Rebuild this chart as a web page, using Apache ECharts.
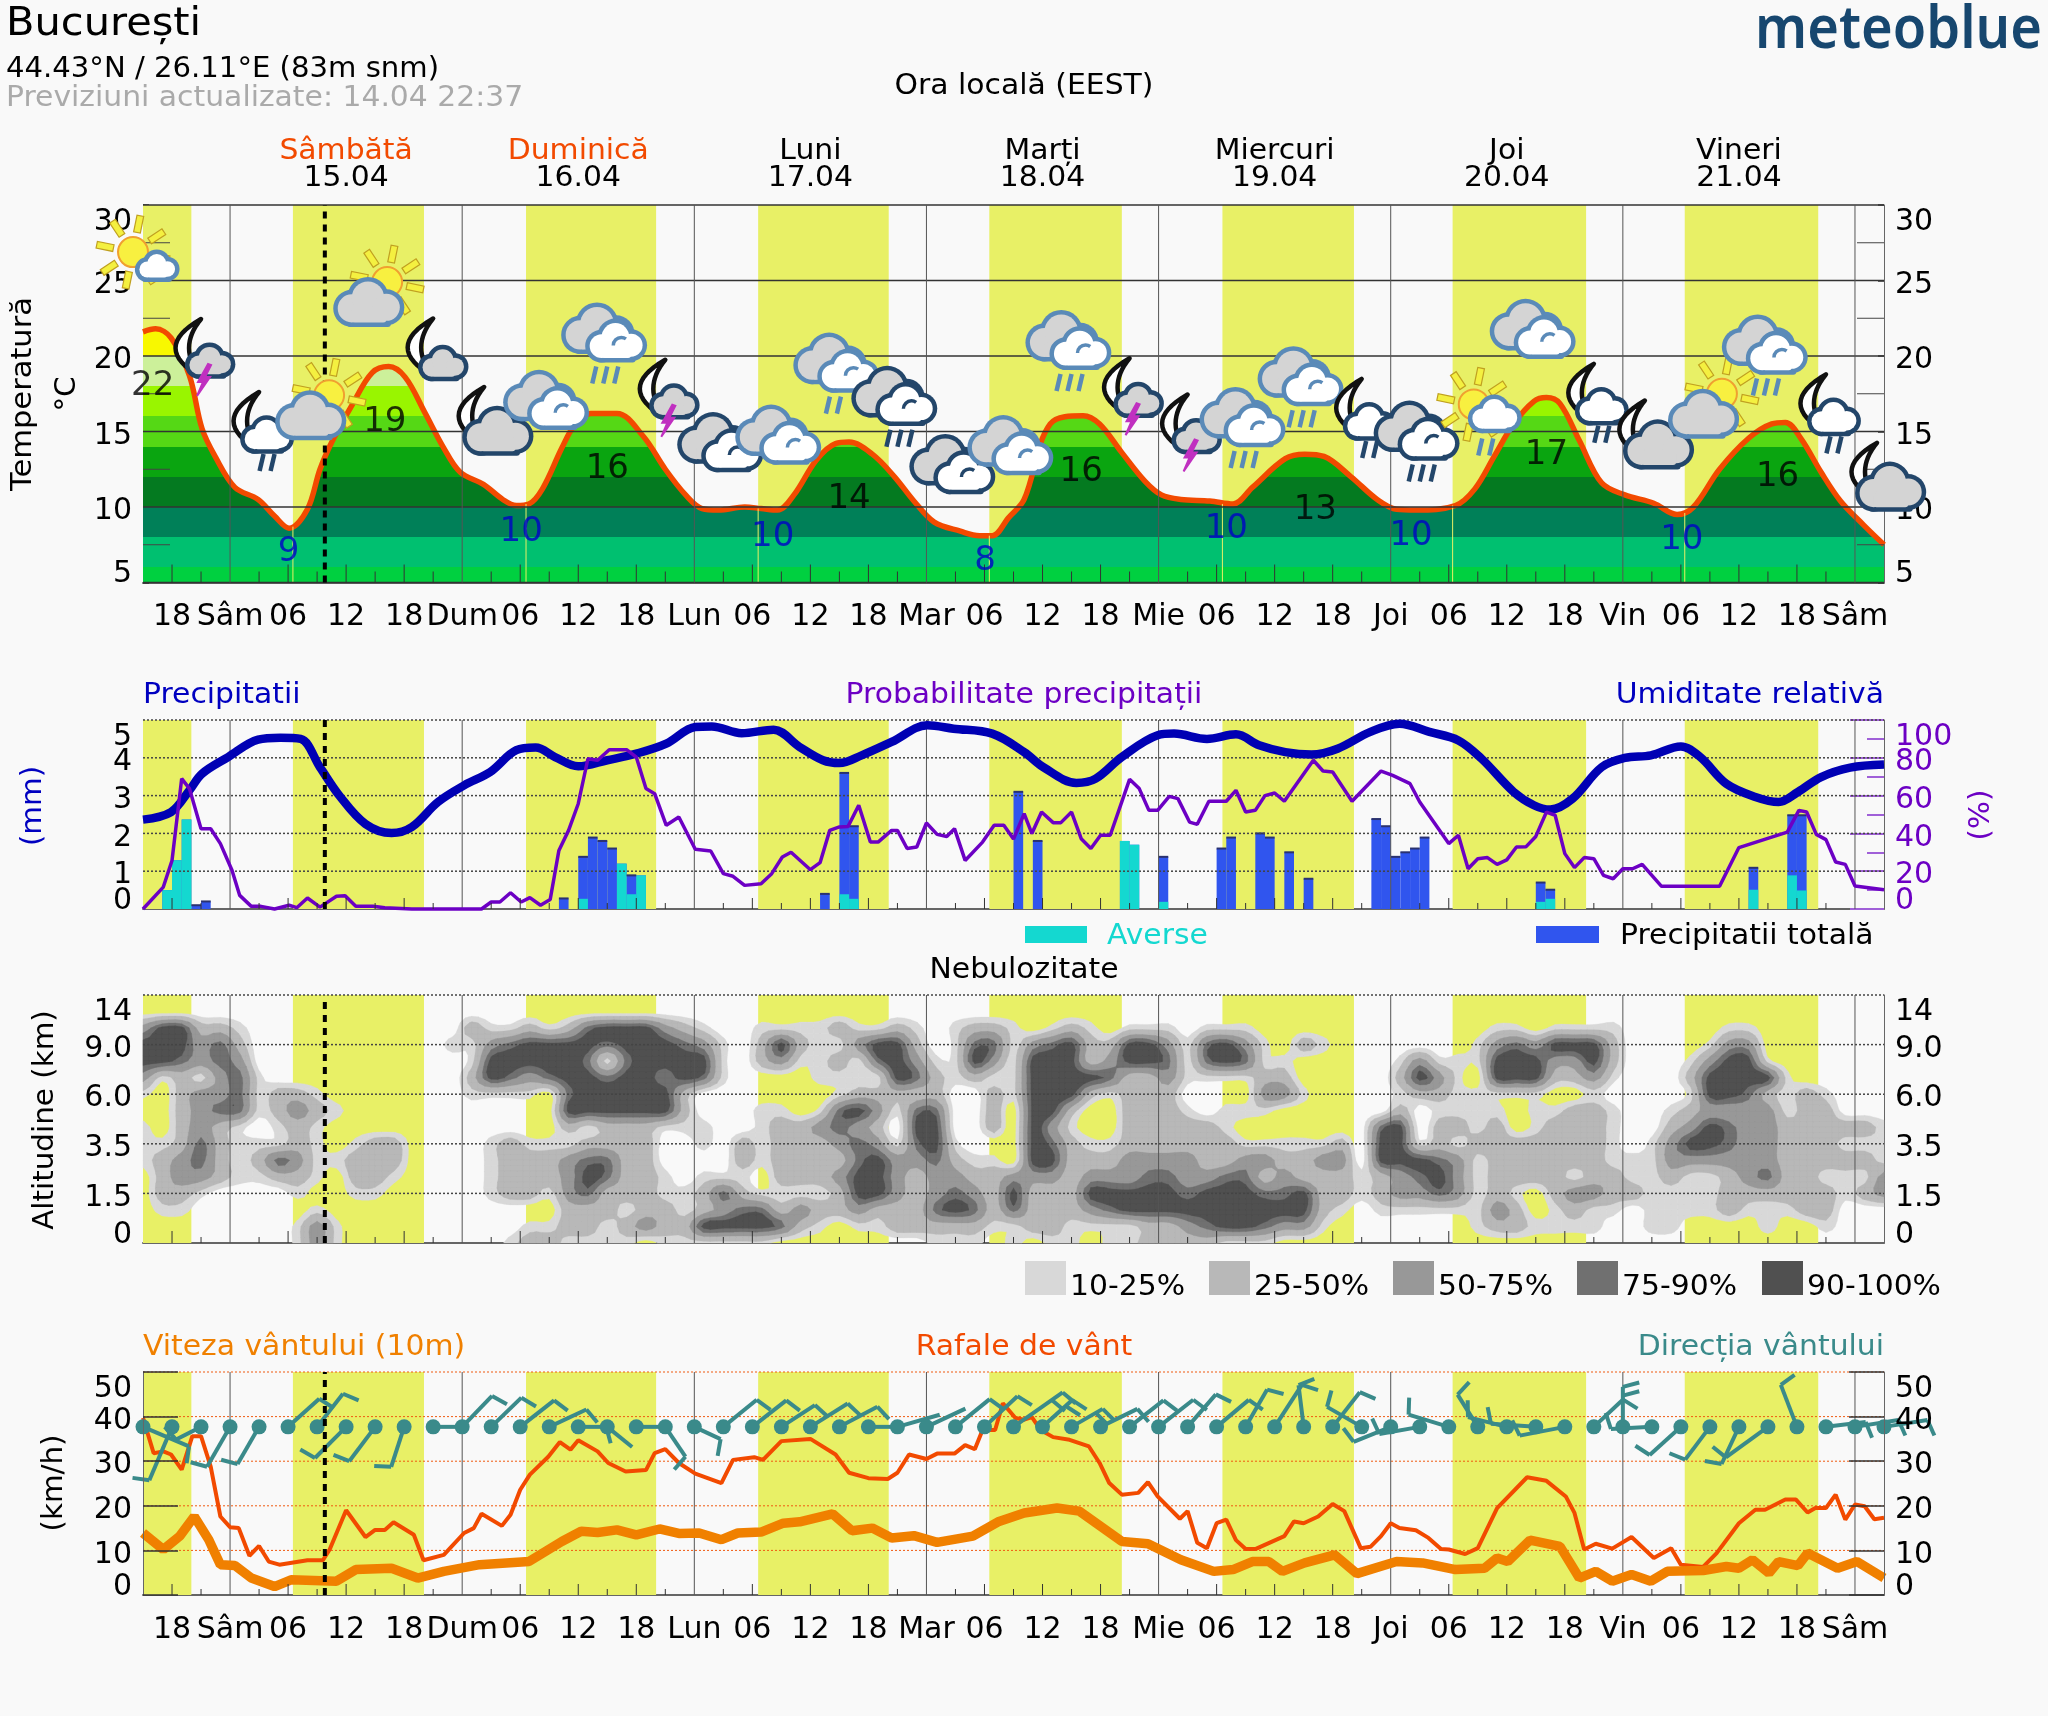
<!DOCTYPE html>
<html><head><meta charset="utf-8">
<style>html,body{margin:0;padding:0;background:#f9f9f9}#c{width:2048px;height:1716px}</style>
<script src="https://cdn.jsdelivr.net/npm/echarts@6/dist/echarts.min.js"></script>
</head><body><div id="c"></div>
<script>
// ---------- DATA (hours counted from Fri 14.04 15:00 local) ----------
const xLabelHours=[3,9,15,21,27,33,39,45,51,57,63,69,75,81,87,93,99,105,111,117,123,129,135,141,147,153,159,165,171,177];
const xLabelTexts=['18','Sâm','06','12','18','Dum','06','12','18','Lun','06','12','18','Mar','06','12','18','Mie','06','12','18','Joi','06','12','18','Vin','06','12','18','Sâm'];
const midnightHours=[9,33,57,81,105,129,153,177];
const dayBandStart=[0,15.5,39.6,63.6,87.5,111.6,135.4,159.4];
const dayBandEnd=[5,29.05,53.05,77.1,101.2,125.2,149.2,173.2];
const dayNames=['Sâmbătă','Duminică','Luni','Marți','Miercuri','Joi','Vineri'];
const dayDates=['15.04','16.04','17.04','18.04','19.04','20.04','21.04'];
const dayCentreHours=[21,45,69,93,117,141,165];
const nowHour=18.8;

const tempHours=[0,1.3,2.9,4.8,6.1,7.5,9.5,11.9,13.6,15.1,17,18.3,19.6,21.7,23.7,25.4,27.1,29.1,31.1,32.8,35.2,37.2,38.6,39.9,41.3,43.3,44.6,46.3,49,51.7,54,56.1,57.8,59.5,62.2,63.9,65.6,67.3,69.6,71.6,73,75.4,77.7,79.7,81.8,84.5,86.5,87.8,89.5,91.1,93.8,97.2,98.9,101.2,103.6,105.3,107.3,110.3,112.7,114.7,118.1,120.1,122.1,124.9,127.6,129.6,131.6,135.7,137.7,139.7,141.7,143.8,145.1,146.5,148.5,150.8,153.2,156.2,158.6,160.3,163,166,168.4,169.8,171.4,173.5,175.5,177.9,180];
const tempValues=[21.6,21.8,21.2,18.7,15.2,13.3,11.3,10.5,9.4,8.6,9.85,12.5,14.4,16.85,18.9,19.3,18.6,16.3,13.9,12.3,11.5,10.5,10.1,10.2,11.2,13.9,15.4,16.2,16.2,14.7,12.5,10.8,9.9,9.8,10,9.9,9.8,10.8,13.1,14.2,14.3,13.5,12,10.4,9,8.4,8.1,8.1,9.3,10.5,15.5,16.05,15.5,13.6,11.7,10.8,10.5,10.4,10.2,11.3,13.2,13.5,13.35,12,10.5,9.85,9.8,10.1,11.2,13.35,15.5,17,17.25,16.85,14.4,11.6,10.8,10.25,9.5,10,12.5,14.55,15.5,15.6,14.55,12.3,10.4,8.8,7.5];
const tempTicksY=[5,10,15,20,25,30];
const tempMinorTicksY=[7.5,12.5,17.5,22.5,27.5];
const tempBandTops=[6,8,10,12,14,16,18,20,22,30];
const tempBandColors=['#00d040','#00c070','#008058','#047a20','#0aa510','#55d815','#99f500','#ccf09a','#f8f800','#ffa000'];
const highHours=[1,25,48,73,97,121.2,145.1,169];
const highLevels=[18,15.6,12.5,10.5,12.3,9.8,13.4,12];
const highTexts=['22','19','16','14','16','13','17','16'];
const lowHours=[15.06,39.1,65.1,87.05,112,131.1,159.1];
const lowLevels=[7,8.35,8,6.4,8.5,8.1,7.8];
const lowTexts=['9','10','10','8','10','10','10'];
const sunriseHours=[15.5,39.6,63.6,87.5,111.6,135.4,159.4];
const sunriseTemps=[8.7,10.2,9.9,8.1,10.2,10.1,9.6];

const iconHours=[0,6,12,18,24,30,36,42,48,54,60,66,72,78,84,90,96,102,108,114,120,126,132,138,144,150,156,162,168,174,180];
const iconLevels=[26.75,20,15.03,16.6,24.1,20.3,15.7,16.9,20.7,17.3,14.1,14.6,18.7,16.5,12.65,13.9,20.2,17.4,15,15.1,17.8,15.9,14.2,16,21.6,16.9,14.8,16.7,19.9,16.2,12];
const iconKinds=['sunWhite','moonBolt','moonRain','sunGrey','sunGrey','moonGreyS','moonGreyL','triple','tripleRain3','moonBolt','tripleDark','triple','tripleRain2','tripleDarkRain3','tripleDark','triple','tripleRain3','moonBolt','moonBolt','tripleRain3','tripleRain3','moonRain','tripleDarkRain3','sunWhiteRain','triple','moonRain','moonGreyL','sunGrey','tripleRain3','moonRain','moonGreyL'];

const humidityHours=[0,2.9,4.8,6.1,8.8,11.9,14.2,16.3,18.3,20.3,23,25.7,27.8,30.5,33.2,35.9,38.6,40.6,42.6,45,48,51,54.1,57.1,58.8,61.9,65.2,67.9,70.3,72,74.3,77.4,81.1,83.8,87.8,91.1,93.1,96.5,98.5,101.2,104.9,106.6,110,113,115.4,118.1,120.8,123.5,126.9,129.9,133,136,138.4,141.7,143.8,145.5,147.8,150.8,153.2,155.9,159,161,163.7,166.7,169.1,171.1,173.5,176.5,180];
const humidityValues=[47.3,51.3,62.8,71.6,80.4,89.6,90.6,90,75,60,45,40.2,43.4,56.6,65.4,72.5,84,85.4,80.4,75.5,78.7,82.2,87.5,96.3,96.6,93,94.9,85.7,78.7,77.2,81.3,88.4,97.2,95.4,92.8,83,75,66.7,69,80.4,91.9,92.8,90,92.4,86.6,83,81.7,84.8,93.7,98,93.7,89.2,79.5,62,54.9,52.6,58.4,75,79.9,81.3,86,80.4,66.3,59.3,56.6,61.9,69.8,74.8,76.4];
const probHours=[0,2.1,3,4,4.8,6,7,8,9.2,10,11.2,12.2,13.6,15.1,15.9,17,18.3,20,20.9,22,23.8,25,27.8,35,36,36.9,38,39.1,40,41.1,42.1,43,44,45,46,47,48.2,50,51,52,52.9,54.1,55.4,57.1,58.7,60,61,62.2,63.9,65,66.1,67,69,70,71,72,72.9,74,75.2,76,77.4,78,79,80,81,82.1,83.1,83.9,85,86.8,88,89,90,91.1,91.9,92.9,94.1,94.9,96,97,98,99,100,102,103,104,104.9,106.1,107,108.2,109,110.2,112,113,114,115,116,117,118,121,122,123,125,128,129.2,131,132,135,136,137,138,139,140,141,142,143,144,145.1,146,147,148,149,150,151,152,153,154,155,157,163,165,170,171.2,172,173,174,175,176,177,180];
const probValues=[0,11.6,25.7,69,63.7,42.5,42.5,34.6,20.5,7.2,1.4,1.4,0,2,0.7,5.8,1,6.7,7,1.4,1.4,0.7,0,0,3.7,3.7,8.6,3.7,6,2,5,31,41.6,55.7,79.5,78.7,84.3,84.3,80.4,63.7,61,44.3,48.7,31.6,30.7,18.7,17.3,12.5,13.4,18.7,27.5,30,20.8,24.5,41.6,43.4,43.7,54.9,35.4,35.4,41.6,41.6,32,32.8,45.5,39.5,38.4,42.5,25.7,35.4,44.3,44.3,37,50.4,39.9,51.3,45.7,45.7,51.3,37.2,32,39,39,68.6,63.7,52.2,52.2,59.6,58.4,46,44.8,57,57,62.8,51.3,52.2,60,61.4,57,78.7,73,72.5,57,73,70.7,66.3,56.6,34.6,39,21.3,26.6,27.2,23.6,26,32.8,33,38.4,51.3,49.6,29.3,21.9,27.2,26.6,17.8,16,21.3,21.3,23.6,12,12,32.5,40.7,52.2,51.3,39.5,36.7,24.9,23.6,12.2,10.2];
const rainHours=[2,3,4,5,6,43,45,46,47,48,49,50,51,70,72,73,90,92,101,102,105,111,112,115,116,118,120,127,128,129,130,131,132,144,145,166,170,171];
const rainTotal=[0.5,1.29,2.37,0.1,0.2,0.28,1.38,1.89,1.8,1.6,1.2,0.89,0.89,0.4,3.6,2.19,3.1,1.8,1.8,1.7,1.38,1.6,1.89,2,1.89,1.5,0.8,2.38,2.19,1.38,1.5,1.6,1.89,0.7,0.51,1.09,2.48,2.48];
const rainShowers=[0.5,1.29,2.37,0,0,0,0.27,0,0,0,1.2,0.39,0.89,0,0.39,0.27,0,0,1.8,1.7,0.19,0,0,0,0,0,0,0,0,0,0,0,0,0.19,0.27,0.51,0.89,0.49];

const cloudAltitudes=['0','1.5','3.5','6.0','9.0','14'];
const cloudColours=['#d8d8d8','#b8b8b8','#989898','#707070','#505050'];
const cloudLegend=['10-25%','25-50%','50-75%','75-90%','90-100%'];
const cloudThresholds=[10,25,50,75,90];
const cloudDigitPercent=[0,17,37,62,82,97];
// one row every third of an altitude step, top to bottom; one digit every 2 h; 0 = clear ... 5 = 90-100 %
const cloudRows=[
"00000000000000000000000 00000000000000000000000 00000000000000000000000 0000000000000000000000",
"00000000000000000000000 00000000000000000000000 00000000000000000000000 0000000000000000000000",
"35522100000000000211212 45553210011112112101221 01210111011100000000000 0110111100000110000000",
"55534200000000001134555 54555431025211355201441 34522553145310210000000 1343555200001330000000",
"55434300000000000155555 41455551023112145311531 55523554145411000001311 1555335200013551000000",
"31213410000000000254345 54554541000011115421211 55554223111122000002531 0555223100025555100000",
"10233412210000000111104 55555200000001222220021 55521222000033100001221 1111001000015542121000",
"00234412321000000000005 55555200011014531440020 55200222101110000002011 1101122100123333122000",
"10232101210000000000002 12221110012234320550020 53100222221000000045022 1201222100235433222221",
"11242111210122000012111 22220010212223431451000 54211222222111112055121 2222222101355433222111",
"12342124311222000012223 44220000212222453342110 55222333322332233055543 1222222111333333222221",
"02332112210221000012223 54221011102223553233223 33233344334423222123453 1222212211211234221113",
"02210000100110000012213 42221124211112553234325 22255555455544522123343 1210233221111222222123",
"01100000010000000000002 22122123442322322245424 22234555555555521011111 1320121101111211122000",
"00000000131000000000112 21232255554210112222211 22111122345543310000000 1221111001100001001000",
"00000000131000000001221 11101111110000000011101 01101122221110000000000 0000000000000000000000"
];

const gustHours=[0,1.1,2.1,2.9,4,5.1,6,7,8,9,9.9,11,12,13,14.1,17,18.6,19.3,21,23,24,25,25.9,28,29,31.1,33.2,34.2,35,37.1,38,39,40,41.9,43.1,44.2,45,47,48.1,49.9,52,52.9,54,55.4,57.1,59.8,61,63.2,64.1,66,69,71.6,73,75,77,78,79.2,81,82.1,83.9,85,86,86.8,88.1,88.9,90.2,91.1,91.9,92.8,94.1,95.8,97.8,98.9,99.9,101.2,102.9,103.9,104.9,107.2,108,109,110,111,112,113,114,115,118,119,120,121.5,123,124.2,125.9,126.9,128,129,129.9,131.6,132.9,134.2,135,136.7,138,140,143.1,145.1,147.1,148,149,150.2,151.9,153.9,156.2,158,159,161.3,162.7,165,166.7,167.7,169.8,170.9,172.1,172.9,174,175,176,177,178,179,180];
const gustValues=[39.7,31.8,32.2,31.5,28.1,35.6,35.6,28.8,17.6,15.2,15,8.8,11,7.5,6.8,7.8,7.8,10.2,19,13,14.6,14.6,16.3,13.5,7.8,9,13.9,15,18.2,15.5,18,23.6,27,31,34.3,32.6,34.7,32.2,29.6,27.7,28,31.8,32.7,29.6,27.2,25.1,30.3,30.9,30.3,34.5,35,31.5,27.4,26.2,26,27.4,31.5,30.5,31.7,31.7,33.6,32.7,37,37,43,39.7,39.3,39.9,37,35.4,34.8,33.3,29.6,25.1,22.5,22.9,25.3,22.1,17.1,18.8,11.7,10.5,16.1,16.9,12.3,10.3,10.3,13.2,16.5,16.1,17.6,20.4,18.8,10.5,10.8,13.2,16.1,15,14.5,12.8,10.3,10.2,9.2,10.5,19.5,26.4,25.6,22.1,18.4,10.2,11.5,10.4,13,8.3,10.5,6.8,6.3,9.4,16.1,19.1,19.1,21.4,21.4,18.5,19.5,19.5,22.5,16.9,20.3,19.9,17,17.3];
const windHours=[0,2.1,3.8,5.3,6.8,8,9.5,11.2,13.6,15.3,20,22,25.7,28.4,31.1,34.8,39.9,43.3,45.3,47,49,51,53.4,55.4,57.5,59.8,61.5,63.9,66.2,67.9,71.3,73.3,75.4,77.4,79.7,82.1,85.8,88.5,91.1,94.5,96.8,101.2,103.9,107.3,110.7,112.7,114.7,116.4,117.8,120.1,123.2,125.5,129.6,132.3,135.7,138.7,140,141.1,143.4,146.5,148.5,150.2,151.9,153.9,155.9,157.6,161.3,163.7,165,166.4,168.1,169.1,171.1,172.1,175.2,177.2,180];
const windValues=[13.9,10.2,13.2,17.6,12.4,6.8,6.6,3.8,1.9,3.4,3.1,5.7,6,3.8,5.3,6.8,7.5,12,14.3,14,14.6,13.5,14.8,13.8,13.9,12.4,13.9,14.1,16.1,16.4,18.2,14.4,15,12.8,13.3,11.8,13.2,16.5,18.4,19.5,18.8,12,11.5,7.9,5.3,5.7,7.5,7.5,5.3,7.2,9,4.8,7.5,7.2,5.7,6,8.3,7.5,12.3,10.9,3.8,5.3,3.1,4.6,3.1,5.3,5.5,6.4,6,7.9,4.9,7.5,6.6,9.4,6,7.5,3.8];
const windMarkerLevel=37.7;
// every 3 h from hour 0: barb direction (degrees clockwise from east), barb strength, feathers
const windBarbDir=[23,113,153,120,120,-42,-52,135,127,108,0,-46,-44,-38,-25,0,39,0,56,25,-39,-38,-33,-32,-28,0,-16,-25,-39,-43,-35,-42,-30,-26,-38,-38,-49,-40,-60,-57,-97,-52,-150,158,170,-163,-122,-166,-176,169,-43,-90,177,138,127,115,144,-111,-7,-9,-9];
const windBarbStrength=[50,58,28,46,43,42,42,44,43,42,29,43,42,43,41,28,32,25,36,29,43,43,40,44,43,29,44,43,44,45,60,40,36,41,43,44,43,42,43,50,42,44,40,40,41,42,38,40,45,46,40,40,41,42,41,41,52,45,40,44,44];
const windBarbFeathers=[1,1,1,1,1,1,1,1,1,1,0,1,1,1,1,1,0,0,1,1,1,1,1,1,1,0,0,0,1,1,2,2,2,1,1,1,1,1,1,1,1,1,1,1,1,1,1,1,1,1,1,2,1,1,1,1,1,1,1,1,1];

// ---------- LAYOUT / STYLE ----------
const FONT='"DejaVu Sans"';
const PX0=143,PX1=1884;
const panels=[{top:205,bottom:582.5,yi:0,min:5,max:30,longTick:18,shortTick:11},
              {top:720,bottom:909,yi:2,min:0,max:5,longTick:11,shortTick:6},
              {top:995,bottom:1243,yi:4,min:0,max:5,longTick:12,shortTick:6},
              {top:1372,bottom:1595,yi:6,min:0,max:50,longTick:11,shortTick:6}];
const YELLOW='#e8f066',ORANGE='#f24a00',AMBER='#f08000',TEAL='#3a8a8a',BLUE='#0000c0',PURPLE='#6c00c4',CYAN='#14d8d0',ROYAL='#3055ee';
const zip=(a,b)=>a.map((v,i)=>[v,b[i]]);
const T_SCALE=1.065;

const chart=echarts.init(document.getElementById('c'),null,{renderer:'canvas',width:2048,height:1716});

const grids=panels.map(p=>({left:PX0,right:2048-PX1,top:p.top,height:p.bottom-p.top,containLabel:false}));
const xLabelMap={};xLabelHours.forEach((h,i)=>xLabelMap[h]=xLabelTexts[i]);
const xAxes=panels.map((p,i)=>({type:'value',gridIndex:i,min:0,max:180,interval:3,
  axisLine:{show:true,onZero:false,lineStyle:{color:'#666',width:2}},axisTick:{show:false},splitLine:{show:false},
  axisLabel:{show:i===0||i===3,margin:20,fontFamily:FONT,fontSize:30,color:'#000',hideOverlap:false,showMinLabel:true,showMaxLabel:true,
    formatter:v=>xLabelMap[v]||''}}));
const yLabel=(extra)=>Object.assign({margin:11,fontFamily:FONT,fontSize:30,lineHeight:9,verticalAlign:'top',color:'#000',showMinLabel:true,showMaxLabel:true},extra||{});
const yLine={show:true,lineStyle:{color:'#666',width:1}};
function yPair(gi,min,max,interval,opt){
  opt=opt||{};
  return [
   {type:'value',gridIndex:gi,position:'left',min,max,interval,z:opt.z||0,splitLine:{show:false},axisLine:yLine,
     axisTick:opt.tick||{show:false},minorTick:{show:false},axisLabel:yLabel(opt.label)},
   {type:'value',gridIndex:gi,position:'right',min:opt.rMin!==undefined?opt.rMin:min,max:opt.rMax!==undefined?opt.rMax:max,interval:opt.rInterval||interval,z:opt.z||0,splitLine:{show:false},axisLine:yLine,
     axisTick:opt.rTick||opt.tick||{show:false},minorTick:opt.rMinor||{show:false},axisLabel:yLabel(opt.rLabel||opt.label)}];
}
const darkTick=(len)=>({show:true,inside:true,length:len,lineStyle:{color:'#333',width:1.5}});
// End labels sit inside the panel, so they live on extra axes with a range-wide interval;
// the main axes only print the inner labels.
const innerOnly=(lo,hi,fn)=>(v=>(v===lo||v===hi)?'':(fn?fn(v):String(v)));
function endAxis(gi,pos,min,max,color,fn){
  return {type:'value',gridIndex:gi,position:pos,min,max,interval:max-min,splitLine:{show:false},axisLine:{show:false},axisTick:{show:false},minorTick:{show:false},
    axisLabel:{margin:11,fontFamily:FONT,fontSize:30,lineHeight:16,padding:[9,0,0,0],color:color||'#000',verticalAlignMaxLabel:'top',verticalAlignMinLabel:'bottom',showMinLabel:true,showMaxLabel:true,formatter:fn||undefined}};
}
const altText=v=>cloudAltitudes[v];
const yAxes=[].concat(
  yPair(0,5,30,5,{tick:darkTick(6),label:{formatter:innerOnly(5,30)}}),
  yPair(1,0,5,1,{rMin:0,rMax:100,rInterval:20,
     label:{formatter:innerOnly(0,5)},
     rTick:{show:true,inside:true,length:34,lineStyle:{color:'#a060d8',width:2}},
     rMinor:{show:true,splitNumber:2,length:17,lineStyle:{color:'#a060d8',width:2}},
     rLabel:{color:PURPLE,formatter:innerOnly(0,100)}}),
  yPair(2,0,5,1,{label:{formatter:innerOnly(0,5,altText)}}),
  yPair(3,0,50,10,{tick:darkTick(35),z:14,label:{formatter:innerOnly(0,50)}}),
  [endAxis(1,'left',0,5),endAxis(1,'right',0,100,PURPLE),endAxis(3,'left',0,50),endAxis(3,'right',0,50),
   endAxis(0,'left',5,30),endAxis(0,'right',5,30),endAxis(2,'left',0,5,null,altText),endAxis(2,'right',0,5,null,altText)]
);

// ---------- helper series ----------
function lineCustom(gi,yi,data,draw,z){
  return {type:'custom',coordinateSystem:'cartesian2d',xAxisIndex:gi,yAxisIndex:yi,silent:true,z,data,
    renderItem:(params,api)=>draw(params.dataIndex,api)};
}
const seg=(a,b,style)=>({type:'line',shape:{x1:a[0],y1:a[1],x2:b[0],y2:b[1]},style});
function hRules(pi,yi,vals,style,z){
  return lineCustom(pi,yi,vals.map(v=>[0,v]),(i,api)=>seg(api.coord([0,vals[i]]),api.coord([180,vals[i]]),style),z);
}
function vRules(pi,hours,style,z){
  const p=panels[pi];
  return lineCustom(pi,p.yi,hours.map(h=>[h,p.min]),(i,api)=>seg(api.coord([hours[i],p.min]),api.coord([hours[i],p.max]),style),z);
}
function bandSeries(pi){
  const p=panels[pi];
  return lineCustom(pi,p.yi,dayBandStart.map(h=>[h,p.min]),(i,api)=>{
    const a=api.coord([dayBandStart[i],p.max]),b=api.coord([dayBandEnd[i],p.min]);
    return {type:'rect',shape:{x:a[0],y:a[1],width:b[0]-a[0],height:b[1]-a[1]},style:{fill:YELLOW}};
  },1);
}
const tickHours=[];for(let h=3;h<180;h+=3)if(midnightHours.indexOf(h)<0)tickHours.push(h);
function tickSeries(pi){
  const p=panels[pi];
  return lineCustom(pi,p.yi,tickHours.map(h=>[h,p.min]),(i,api)=>{
    const h=tickHours[i],a=api.coord([h,p.min]);
    const len=((h-3)%6===0)?p.longTick:p.shortTick;
    return seg(a,[a[0],a[1]-len],{stroke:'#333',lineWidth:1});
  },12);
}
const minorTickStyle={stroke:'#444',lineWidth:1};
const tempMinorTicks=lineCustom(0,0,tempMinorTicksY.map(v=>[0,v]),(i,api)=>{
  const a=api.coord([0,tempMinorTicksY[i]]),b=api.coord([180,tempMinorTicksY[i]]);
  return {type:'group',children:[seg(a,[a[0]+27,a[1]],minorTickStyle),seg(b,[b[0]-27,b[1]],minorTickStyle)]};
},12);

// ---------- cloud contours drawn from the digit grid ----------
const cloudGrid=cloudRows.map(r=>r.replace(/\s/g,'').split('').map(d=>cloudDigitPercent[+d]));
const UP=3;
function cr(a,b,c,d,t){return 0.5*(2*b+(-a+c)*t+(2*a-5*b+4*c-d)*t*t+(-a+3*b-3*c+d)*t*t*t);}
function cloudAt(r,c){
  const nr=cloudGrid.length,nc=cloudGrid[0].length;
  const r0=Math.min(Math.floor(r),nr-2),c0=Math.min(Math.floor(c),nc-2),tr=r-r0,tc=c-c0;
  const col=[];
  for(let i=-1;i<=2;i++){
    const row=cloudGrid[Math.max(0,Math.min(nr-1,r0+i))],g=k=>row[Math.max(0,Math.min(nc-1,c0+k))];
    col.push(cr(g(-1),g(0),g(1),g(2),tc));
  }
  return cr(col[0],col[1],col[2],col[3],tr);
}
const fineRows=(cloudGrid.length-1)*UP+1,fineCols=(cloudGrid[0].length-1)*UP+1,fine=[];
for(let r=0;r<fineRows;r++){const a=[];for(let c=0;c<fineCols;c++)a.push(cloudAt(r/UP,c/UP));fine.push(a);}
const cloudLevelPolys=cloudThresholds.map(thr=>{
  const polys=[];
  for(let r=0;r<fineRows-1;r++)for(let c=0;c<fineCols-1;c++){
    const cs=[[c,r],[c+1,r],[c+1,r+1],[c,r+1]],vs=[fine[r][c],fine[r][c+1],fine[r+1][c+1],fine[r+1][c]];
    if(vs[0]<thr&&vs[1]<thr&&vs[2]<thr&&vs[3]<thr)continue;
    const pts=[];
    for(let k=0;k<4;k++){
      const n=(k+1)%4;
      if(vs[k]>=thr)pts.push(cs[k]);
      if((vs[k]>=thr)!==(vs[n]>=thr)){const t=(thr-vs[k])/(vs[n]-vs[k]);pts.push([cs[k][0]+t*(cs[n][0]-cs[k][0]),cs[k][1]+t*(cs[n][1]-cs[k][1])]);}
    }
    polys.push(pts.map(q=>[q[0]/UP*2,(15-q[1]/UP)/3]));
  }
  return polys;
});
const cloudSeries=lineCustom(2,4,cloudLevelPolys.map((_,i)=>[0,i]),(i,api)=>{
  let d='';
  cloudLevelPolys[i].forEach(poly=>{
    poly.forEach((q,k)=>{const c=api.coord(q);d+=(k?'L':'M')+c[0].toFixed(1)+' '+c[1].toFixed(1);});
    d+='Z';
  });
  return {type:'path',shape:{pathData:d},style:{fill:cloudColours[i],stroke:cloudColours[i],lineWidth:0.3}};
},3);

// ---------- weather icons ----------
const C_BLUE='#5a8ab8',C_DARK='#23466a';
function circ(x,y,r,fill){return {type:'circle',shape:{cx:x,cy:y,r},style:{fill}};}
function box(x,y,w,h,fill){return {type:'rect',shape:{x,y,width:w,height:h,r:3},style:{fill}};}
function cloudShape(cx,cy,s,fill,stroke){
  const L=[[-17,4,13],[-2,-6,15],[15,3,12.5]],o=[],w=4.5;
  L.forEach(l=>o.push(circ(cx+l[0]*s,cy+l[1]*s,l[2]*s+w,stroke)));
  o.push(box(cx-17*s-w,cy+4*s,32*s+2*w,13*s+w,stroke));
  L.forEach(l=>o.push(circ(cx+l[0]*s,cy+l[1]*s,l[2]*s,fill)));
  o.push(box(cx-17*s,cy+4*s,32*s,13*s,fill));
  return o;
}
function tripleShape(cx,cy,stroke){
  let o=cloudShape(cx-8,cy-5,1.12,'#d4d4d4',stroke);
  o=o.concat(cloudShape(cx+10,cy+7,0.92,'#ffffff',stroke));
  o.push({type:'arc',shape:{cx:cx+14,cy:cy+10,r:8,startAngle:Math.PI,endAngle:Math.PI*1.7},style:{stroke,fill:'none',lineWidth:3.5}});
  return o;
}
function rainShape(cx,cy,n,stroke){
  const o=[];for(let i=0;i<n;i++){const x=cx+(i-(n-1)/2)*11;o.push({type:'line',shape:{x1:x+2,y1:cy,x2:x-2,y2:cy+17},style:{stroke,lineWidth:4.5}});}
  return o;
}
function boltShape(cx,cy){
  const P=[[5,-16],[-5,2],[0,2],[-6,16],[7,-3],[2,-3],[8,-15]].map(p=>[cx+p[0],cy+p[1]]);
  return [{type:'polygon',shape:{points:P},style:{fill:'#c030c0',stroke:'#c030c0',lineWidth:2}}];
}
function moonShape(cx,cy,h){
  const T=[cx+13,cy-h/2],B=[cx+13,cy+h/2],q=(a,c,b,t)=>[(1-t)*(1-t)*a[0]+2*t*(1-t)*c[0]+t*t*b[0],(1-t)*(1-t)*a[1]+2*t*(1-t)*c[1]+t*t*b[1]];
  const oc=[cx-38,cy],ic=[cx-11,cy],P=[];
  for(let i=0;i<=16;i++)P.push(q(T,oc,B,i/16));
  for(let i=16;i>=0;i--)P.push(q(T,ic,B,i/16));
  return [{type:'polygon',shape:{points:P},style:{fill:'#ffffff',stroke:'#111',lineWidth:4.5,lineJoin:'round'}}];
}
function sunShape(cx,cy,r){
  const o=[];
  for(let k=0;k<8;k++){
    const a=k*Math.PI/4+0.2,c=Math.cos(a),s=Math.sin(a),w=3.4;
    const r0=r+5,r1=r+22;
    o.push({type:'polygon',shape:{points:[[cx+c*r0-s*w,cy+s*r0+c*w],[cx+c*r1-s*w,cy+s*r1+c*w],[cx+c*r1+s*w,cy+s*r1-c*w],[cx+c*r0+s*w,cy+s*r0-c*w]]},style:{fill:'#f4f040',stroke:'#c0a020',lineWidth:1.2}});
  }
  o.push({type:'circle',shape:{cx,cy,r},style:{fill:'#f8f040',stroke:'#f0a030',lineWidth:2}});
  return o;
}
function iconParts(k,x,y){
  switch(k){
    case 'sunWhite':return sunShape(x-10,y-2,15).concat(cloudShape(x+15,y+13,0.62,'#fff',C_BLUE));
    case 'sunWhiteRain':return sunShape(x-4,y-12,15).concat(cloudShape(x+18,y-1,0.78,'#fff',C_BLUE),rainShape(x+8,y+22,2,C_BLUE));
    case 'sunGrey':return sunShape(x+12,y-12,15).concat(cloudShape(x-5,y+10,1.08,'#d4d4d4',C_BLUE));
    case 'moonGreyS':return moonShape(x-13,y-4,58).concat(cloudShape(x+11,y+13,0.72,'#d4d4d4',C_DARK));
    case 'moonGreyL':return moonShape(x-20,y-5,58).concat(cloudShape(x+8,y+12,1.08,'#d4d4d4',C_DARK));
    case 'moonBolt':return moonShape(x-13,y-8,58).concat(cloudShape(x+10,y+6,0.72,'#d4d4d4',C_DARK),boltShape(x+2,y+24));
    case 'moonRain':return moonShape(x-13,y-10,58).concat(cloudShape(x+9,y+5,0.78,'#fff',C_DARK),rainShape(x+8,y+23,2,C_DARK));
    case 'triple':return tripleShape(x,y,C_BLUE);
    case 'tripleRain2':return tripleShape(x,y-10,C_BLUE).concat(rainShape(x-6,y+21,2,C_BLUE));
    case 'tripleRain3':return tripleShape(x,y-10,C_BLUE).concat(rainShape(x-2,y+21,3,C_BLUE));
    case 'tripleDark':return tripleShape(x,y,C_DARK);
    case 'tripleDarkRain3':return tripleShape(x,y-10,C_DARK).concat(rainShape(x+2,y+21,3,C_DARK));
  }
  return [];
}
const iconSeries=lineCustom(0,0,zip(iconHours,iconLevels),(i,api)=>{
  const c=api.coord([iconHours[i],iconLevels[i]]);
  return {type:'group',children:iconParts(iconKinds[i],c[0],c[1])};
},30);

// ---------- wind markers ----------
const windMarkerHours=windBarbDir.map((_,i)=>i*3);
const windSeries=lineCustom(3,6,windMarkerHours.map(h=>[h,windMarkerLevel]),(i,api)=>{
  const c=api.coord([windMarkerHours[i],windMarkerLevel]),a=windBarbDir[i]*Math.PI/180,L=windBarbStrength[i];
  const tip=[c[0]+Math.cos(a)*L,c[1]+Math.sin(a)*L],ch=[];
  const st={stroke:TEAL,lineWidth:4};
  ch.push(seg(c,tip,st));
  for(let f=0;f<windBarbFeathers[i];f++){
    const base=[c[0]+Math.cos(a)*L*(1-f*0.22),c[1]+Math.sin(a)*L*(1-f*0.22)],b=a+75*Math.PI/180;
    ch.push(seg(base,[base[0]+Math.cos(b)*17,base[1]+Math.sin(b)*17],st));
  }
  ch.push({type:'circle',shape:{cx:c[0],cy:c[1],r:7.5},style:{fill:TEAL}});
  return {type:'group',children:ch};
},9);

// ---------- rain bar top edges ----------
const rainEdges=lineCustom(1,2,zip(rainHours,rainTotal),(i,api)=>{
  if(rainTotal[i]<=rainShowers[i])return null;
  const a=api.coord([rainHours[i],rainTotal[i]]),b=api.coord([rainHours[i]+1,rainTotal[i]]);
  return seg(a,b,{stroke:'#2a3270',lineWidth:2});
},4);

// ---------- temperature fill stops ----------
const p0=panels[0],tempStops=[];
tempBandTops.forEach((top,i)=>{
  const bottom=i?tempBandTops[i-1]:p0.min;
  tempStops.unshift({offset:(p0.max-top)/(p0.max-p0.min),color:tempBandColors[i]});
  tempStops.splice(1,0,{offset:(p0.max-bottom)/(p0.max-p0.min),color:tempBandColors[i]});
});
tempStops.sort((a,b)=>a.offset-b.offset);

function labelScatter(hours,levels,texts,color){
  return {type:'scatter',xAxisIndex:0,yAxisIndex:0,z:20,silent:true,symbolSize:0,
    data:hours.map((h,i)=>({value:[h,levels[i]],label:{formatter:texts[i]}})),
    label:{show:true,position:'inside',fontFamily:FONT,fontSize:34,color}};
}
const thin={stroke:'#333',lineWidth:1.5};
const dotted={stroke:'#444',lineWidth:1.5,lineDash:[2,2]};
const dottedOrange={stroke:'#f05a10',lineWidth:1,lineDash:[2,2]};
const midStyle={stroke:'#555',lineWidth:1};
const nowStyle={stroke:'#000',lineWidth:4,lineDash:[7,6]};

const series=[
  bandSeries(0),bandSeries(1),bandSeries(2),bandSeries(3),
  // panel 1
  {type:'line',name:'Temperatură',xAxisIndex:0,yAxisIndex:0,z:4,silent:true,data:zip(tempHours,tempValues),smooth:0.35,showSymbol:false,
   lineStyle:{color:ORANGE,width:5.5},
   areaStyle:{origin:'start',opacity:1,color:{type:'linear',global:true,x:0,y:p0.top,x2:0,y2:p0.bottom,colorStops:tempStops}}},
  lineCustom(0,0,zip(sunriseHours,sunriseTemps),(i,api)=>seg(api.coord([sunriseHours[i],5]),api.coord([sunriseHours[i],sunriseTemps[i]]),{stroke:YELLOW,lineWidth:1}),5),
  hRules(0,0,tempTicksY,thin,6),tempMinorTicks,vRules(0,midnightHours,midStyle,7),tickSeries(0),vRules(0,[nowHour],nowStyle,13),
  labelScatter(highHours,highLevels,highTexts,'#000'),labelScatter(lowHours,lowLevels,lowTexts,'#0000c8'),
  iconSeries,
  // panel 2
  {type:'bar',name:'Precipitatii totală',xAxisIndex:1,yAxisIndex:2,z:3,silent:true,barWidth:9.67,barGap:'-100%',data:zip(rainHours.map(h=>h+0.5),rainTotal),itemStyle:{color:ROYAL}},
  {type:'bar',name:'Averse',xAxisIndex:1,yAxisIndex:2,z:3,silent:true,barWidth:9.67,barGap:'-100%',data:zip(rainHours.map(h=>h+0.5),rainShowers),itemStyle:{color:CYAN}},
  rainEdges,
  hRules(1,2,[1,2,3,4,5],dotted,6),vRules(1,midnightHours,midStyle,7),tickSeries(1),vRules(1,[nowHour],nowStyle,13),
  {type:'line',name:'Umiditate relativă',xAxisIndex:1,yAxisIndex:3,z:9,silent:true,data:zip(humidityHours,humidityValues),smooth:0.35,showSymbol:false,lineStyle:{color:'#0000b4',width:8.5}},
  {type:'line',name:'Probabilitate precipitații',xAxisIndex:1,yAxisIndex:3,z:10,silent:true,data:zip(probHours,probValues),showSymbol:false,clip:false,lineStyle:{color:PURPLE,width:3.5}},
  // panel 3
  cloudSeries,hRules(2,4,[1,2,3,4,5],dotted,6),vRules(2,midnightHours,midStyle,7),tickSeries(2),
  lineCustom(2,4,[[nowHour,0]],(i,api)=>{const a=api.coord([nowHour,0]),b=api.coord([nowHour,5]);return seg(a,[b[0],b[1]+7],nowStyle);},13),
  // panel 4
  hRules(3,6,[10,20,30,40,50],dottedOrange,6),vRules(3,midnightHours,midStyle,7),tickSeries(3),vRules(3,[nowHour],nowStyle,13),
  {type:'line',name:'Rafale de vânt',xAxisIndex:3,yAxisIndex:6,z:8,silent:true,data:zip(gustHours,gustValues),showSymbol:false,lineStyle:{color:ORANGE,width:4}},
  {type:'line',name:'Viteza vântului',xAxisIndex:3,yAxisIndex:6,z:8,silent:true,data:zip(windHours,windValues),showSymbol:false,lineStyle:{color:AMBER,width:9.5}},
  windSeries
];

// ---------- texts ----------
function txt(x,y,text,o){
  o=o||{};
  const size=o.size||28,weight=o.weight||'normal';
  const font=weight+' '+size+'px '+(o.family||FONT);
  return {type:'text',x,y:o.rot?y:y+3,rotation:o.rot||0,scaleX:o.sx||T_SCALE,z:100,silent:true,
    style:{text,font,fill:o.color||'#000',align:o.align||'left',verticalAlign:'middle',textAlign:o.align||'left',textVerticalAlign:'middle'}};
}
const hx=h=>PX0+h*(PX1-PX0)/180;
const gfx=[
  txt(6,22,'București',{size:39}),
  txt(6,67,'44.43°N / 26.11°E (83m snm)',{sx:1.04}),
  txt(6,96,'Previziuni actualizate: 14.04 22:37',{color:'#aaaaaa'}),
  txt(1024,84,'Ora locală (EEST)',{align:'center'}),
  txt(1755,28,'meteoblue',{size:60,weight:'600',color:'#17476f',family:'"Noto Sans"',sx:0.905}),
  txt(143,693,'Precipitatii',{color:BLUE}),
  txt(1024,693,'Probabilitate precipitații',{color:PURPLE,align:'center'}),
  txt(1884,693,'Umiditate relativă',{color:BLUE,align:'right'}),
  txt(1107,934,'Averse',{color:CYAN}),
  txt(1620,934,'Precipitatii totală'),
  txt(1024,968,'Nebulozitate',{align:'center'}),
  txt(143,1345,'Viteza vântului (10m)',{color:AMBER}),
  txt(1024,1345,'Rafale de vânt',{color:ORANGE,align:'center'}),
  txt(1884,1345,'Direcția vântului',{color:TEAL,align:'right'}),
  txt(24,394,'Temperatură',{rot:Math.PI/2,align:'center',sx:1.09}),
  txt(68,394,'°C',{rot:Math.PI/2,align:'center',sx:1.05}),
  txt(34,806,'(mm)',{rot:Math.PI/2,align:'center',color:BLUE,sx:1.05}),
  txt(1982,815,'(%)',{rot:Math.PI/2,align:'center',color:PURPLE,sx:1.05}),
  txt(46,1120,'Altitudine (km)',{rot:Math.PI/2,align:'center',sx:1.05}),
  txt(55,1483,'(km/h)',{rot:Math.PI/2,align:'center',sx:1.05}),
  {type:'rect',shape:{x:1025,y:926,width:62,height:17},style:{fill:CYAN},silent:true},
  {type:'rect',shape:{x:1536,y:926,width:63,height:17},style:{fill:ROYAL},silent:true}
];
dayNames.forEach((n,i)=>{
  const red=i<2;
  gfx.push(txt(hx(dayCentreHours[i]),149,n,{align:'center',color:red?ORANGE:'#000'}));
  gfx.push(txt(hx(dayCentreHours[i]),176,dayDates[i],{align:'center'}));
});
const swatchLeft=[1025,1209,1393,1577,1762];
cloudLegend.forEach((t,i)=>{
  gfx.push({type:'rect',shape:{x:swatchLeft[i],y:1261,width:41,height:34},style:{fill:cloudColours[i]},silent:true});
  gfx.push(txt(swatchLeft[i]+45,1285,t));
});

chart.setOption({animation:false,backgroundColor:'#f9f9f9',grid:grids,xAxis:xAxes,yAxis:yAxes,series,graphic:{elements:gfx}});
</script></body></html>
